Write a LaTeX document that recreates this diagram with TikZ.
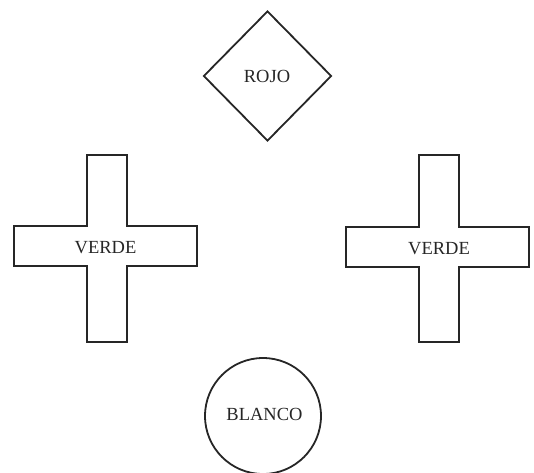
\documentclass[tikz,border=0pt]{standalone}
\usepackage{fontspec}
\setmainfont{Liberation Serif}
\usetikzlibrary{shapes.geometric}
\begin{document}
\begin{tikzpicture}[x=1pt,y=1pt,
  shapeline/.style={draw=black!85,line width=1.8pt,line join=miter},
  label/.style={font=\fontsize{18.5}{21}\selectfont,text=black!85,inner sep=0pt}]
\useasboundingbox (0,0) rectangle (534,472);
% diamond
\node[shapeline,diamond,minimum width=128pt,minimum height=130pt,inner sep=0pt] (rojoshape) at (267.5,396) {};
\node[label] (rojo) at (267,395.5) {ROJO};
% left cross
\draw[shapeline] (87,317) -- (127,317) -- (127,246) -- (197,246) -- (197,206) -- (127,206) -- (127,130) -- (87,130) -- (87,206) -- (14,206) -- (14,246) -- (87,246) -- cycle;
\node[label] (verdeL) at (105.5,224) {VERDE};
% right cross
\draw[shapeline] (419,317) -- (459,317) -- (459,245) -- (529,245) -- (529,205) -- (459,205) -- (459,130) -- (419,130) -- (419,205) -- (346,205) -- (346,245) -- (419,245) -- cycle;
\node[label] (verdeR) at (439,223) {VERDE};
% circle
\node[shapeline,circle,minimum size=116pt,inner sep=0pt] (blancoshape) at (263,56) {};
\node[label] (blanco) at (264.5,58) {BLANCO};
\end{tikzpicture}
\end{document}
